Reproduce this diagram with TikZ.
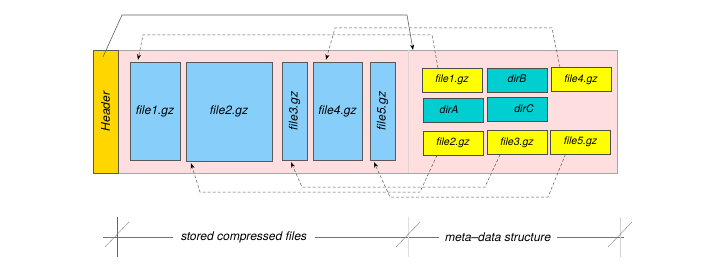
\documentclass[tikz,border=0pt]{standalone}
\usepackage{fontspec}
\setmainfont{TeX Gyre Heros}
\usetikzlibrary{arrows.meta}

\definecolor{archfill}{RGB}{255,222,224}
\definecolor{packfill}{RGB}{135,206,250}
\definecolor{entryfill}{RGB}{255,255,0}
\definecolor{dirfill}{RGB}{0,206,209}
\definecolor{headfill}{RGB}{255,214,0}

\begin{document}
\begin{tikzpicture}[x=1pt, y=-1pt, >={Stealth[length=5.5pt,width=4pt,black]},
                    big/.style={font=\itshape\fontsize{12}{12}\selectfont},
                    small/.style={font=\itshape\fontsize{10.5}{10.5}\selectfont},
                    packed/.style={big,draw=gray!70!black,fill=packfill,inner sep=0pt,minimum height=98pt},
                    entry/.style={small,draw=gray!60!black,fill=entryfill,inner sep=0pt,minimum width=60pt,minimum height=24pt},
                    dirent/.style={small,draw=gray!60!black,fill=dirfill,inner sep=0pt,minimum width=60pt,minimum height=24pt},
                    link/.style={black!65,line width=0.5pt,dash pattern=on 3pt off 2pt,->},
                    measure/.style={gray!90!black,line width=0.6pt}]
    \useasboundingbox (0,0) rectangle (725,270);

    % archive body and header
    \node[draw=gray!70,fill=archfill,inner sep=0pt,minimum width=499pt,minimum height=123pt] (arch) at (367.5,111.5) {};
    \draw[red!15!gray!30] (408,0 |- arch.north) -- (408,0 |- arch.south);
    \node[big,draw=gray!70!black,fill=headfill,inner sep=0pt,minimum width=25pt,minimum height=123pt] (hdr) at (105.5,111.5) {};
    \node[big,rotate=90] at (hdr.center) {Header};

    % compressed files
    \node[packed,minimum width=50pt] (f1) at (155,111) {file1.gz};
    \node[packed,minimum width=86pt,minimum height=99pt] (f2) at (229,111.5) {file2.gz};
    \node[packed,minimum width=25pt] (f3) at (294.5,111) {};
    \node[big,rotate=90] at (f3.center) {file3.gz};
    \node[packed,minimum width=49pt] (f4) at (337.5,111) {file4.gz};
    \node[packed,minimum width=25pt] (f5) at (382.5,111) {};
    \node[big,rotate=90] at (f5.center) {file5.gz};

    % meta-data entries
    \node[entry] (m1) at (452,80) {file1.gz};
    \node[dirent] (dB) at (517,80) {\raisebox{2pt}{dirB}};
    \node[entry] (m4) at (581,79.5) {file4.gz};
    \node[dirent] (dA) at (453,110) {\hspace*{-8pt}dirA};
    \node[dirent] (dC) at (517,109) {\hspace*{14pt}dirC};
    \node[entry] (m2) at (453,143) {file2.gz};
    \node[entry] (m3) at (517,142.5) {file3.gz};
    \node[entry] (m5) at (580.5,142) {file5.gz};

    % header points at the meta-data
    \coordinate (hdrtip) at (103,57);
    \coordinate (metatop) at (413,50);
    \draw[gray!75!black,line width=0.6pt,->] (hdrtip) -- (122,15) -- (407,15) -- (metatop);

    % entries point back at their data
    \draw[link] ([xshift=-14pt]m1.north) -- (432,35) -- (143,35) -- ([xshift=-17pt,yshift=2pt]f1.north);
    \draw[link] ([xshift=-21pt]m4.north) -- (552,28) -- (335,28) -- ([xshift=-11.5pt,yshift=2pt]f4.north);
    \draw[link] ([xshift=-16pt]m2.south) -- (420,192) -- (200,192) -- ([xshift=-38pt,yshift=-2pt]f2.south);
    \draw[link] ([xshift=-17pt]m3.south) -- (485,187) -- (302,187) -- ([xshift=-3.5pt,yshift=-2pt]f3.south);
    \draw[link] ([xshift=-15pt]m5.south) -- (548,197) -- (390,197) -- ([xshift=-8.5pt,yshift=-2pt]f5.south);

    % extent marks below
    \node[big,inner sep=8pt] (lblA) at (244,237) {stored compressed files};
    \node[big,inner sep=6pt] (lblB) at (498,237) {meta--data structure};
    \coordinate (dA0) at (117,237);
    \coordinate (dB0) at (408,237);
    \coordinate (dC0) at (620,237);
    \draw[measure] ([xshift=-14pt]dA0) -- (lblA.west);
    \draw[measure] (lblA.east) -- (lblB.west);
    \draw[measure] (lblB.east) -- ([xshift=4pt]dC0);
    \foreach \d/\c in {dA0/gray!80!black, dB0/gray!25, dC0/gray!35}
        \draw[\c,line width=0.6pt] ([yshift=20pt]\d) -- ([yshift=-20pt]\d);
    \foreach \d in {dA0, dB0, dC0}
        \draw[gray,line width=0.4pt] ([xshift=-12pt,yshift=-10pt]\d) -- ([xshift=12pt,yshift=15pt]\d);
\end{tikzpicture}
\end{document}
